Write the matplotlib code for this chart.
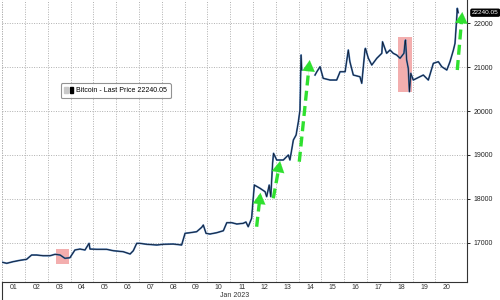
import numpy as np
import matplotlib
matplotlib.use("Agg")
import matplotlib.pyplot as plt
from matplotlib.patches import Rectangle, Patch
from matplotlib.legend_handler import HandlerTuple

plt.rcParams['font.family'] = ['Liberation Sans', 'DejaVu Sans']

# time in days since Jan 1 00:00 (2023), price in USD
days = [0.01, 0.20, 0.47, 0.78, 1.07, 1.29, 1.51, 1.79, 2.10, 2.32, 2.54, 2.75, 2.97,
        3.19, 3.41, 3.63, 3.81, 3.85, 4.14, 4.58, 4.87, 5.31, 5.61, 5.75, 5.90, 6.04,
        6.34, 6.78, 7.07, 7.50, 7.87, 8.02, 8.24, 8.53, 8.75, 8.82, 8.94, 9.11, 9.41,
        9.70, 9.85, 10.07, 10.29, 10.57, 10.69, 10.79, 10.94, 11.04, 11.06, 11.31,
        11.53, 11.60, 11.71, 11.78, 11.86, 11.90, 12.04, 12.33, 12.55, 12.62, 12.77,
        12.89, 12.99, 13.06, 13.09, 13.11, 13.14, 13.40,
        13.72, 13.80, 13.94, 14.08, 14.38, 14.67, 14.82, 15.04, 15.18, 15.25, 15.40,
        15.69, 15.77, 15.91, 15.93, 16.06, 16.21, 16.43, 16.65, 16.68, 16.86, 17.01,
        17.15, 17.30, 17.45, 17.62, 17.67, 17.69, 17.74, 17.81, 17.86, 17.92, 18.03,
        18.18, 18.47, 18.69, 18.91, 19.13, 19.28, 19.50, 19.64, 19.79, 19.86, 19.93,
        19.96, 20.00]
price = [16554, 16531, 16567, 16599, 16622, 16720, 16720, 16704, 16704, 16736, 16720,
         16645, 16658, 16834, 16856, 16834, 16986, 16856, 16850, 16850, 16818, 16795,
         16743, 16818, 16986, 16986, 16964, 16948, 16964, 16970, 16948, 17214, 17228,
         17251, 17351, 17403, 17214, 17198, 17228, 17273, 17456, 17456, 17426, 17442,
         17472, 17364, 17556, 18200, 18314, 18239, 18162, 18048, 18314, 18048, 18809,
         19037, 18884, 18884, 18998, 18884, 19339, 19453, 19756, 20023, 20781, 21276,
         20934, np.nan,
         20820, 20895, 21009, 20745, 20706, 20706, 20895, 20895, 21390, 21123, 20820,
         20781, 20631, 21390, 21428, 21201, 21048, 21201, 21315, 21579, 21315, 21390,
         21315, 21276, 21201, 21315, 21579, 21618, 21162, 20973, 20440, 20859, 20706,
         20745, 20820, 20706, 21087, 21123, 21009, 20934, 21123, 21390, 21542, 22073,
         22340, 22240]

last_price = 22240.05
day_labels = ["%02d" % d for d in range(1, 21)]
y_ticks = [17000, 18000, 19000, 20000, 21000, 22000]

# annotation arrows: (tail_day, tail_price, tip_day, tip_price)
arrows = [(11.16, 17364, 11.34, 18200),
          (11.89, 18011, 12.21, 18923),
          (13.03, 18845, 13.50, 21223),
          (19.96, 20934, 20.19, 22317)]
# highlight boxes: (day0, day1, price0, price1)
boxes = [(2.36, 2.93, 16508, 16856),
         (17.37, 17.96, 20440, 21693)]

fig = plt.figure(figsize=(5, 3), dpi=100)
ax = fig.add_axes([0.0044, 0.061, 0.9296, 0.939])
ax.set_xlim(0, 20.386)
ax.set_ylim(16112, 22529)

for b in boxes:
    ax.add_patch(Rectangle((b[0], b[2]), b[1] - b[0], b[3] - b[2],
                           facecolor='#f2a0a0', edgecolor='none', alpha=0.85, zorder=2))

ax.plot(days, price, color='#4a7ab5', lw=1.3, zorder=3, solid_joinstyle='round')
ax.plot(days, price, color='#111c30', lw=0.6, zorder=4, solid_joinstyle='round')

green = '#2fe02f'
for t in arrows:
    ax.plot([t[0], t[0] + (t[2] - t[0]) * 0.85], [t[1], t[1] + (t[3] - t[1]) * 0.85],
            color=green, lw=2.4, dashes=(3, 1.6), zorder=5, solid_capstyle='butt')
    ax.annotate('', xy=(t[2], t[3]),
                xytext=(t[0] + (t[2] - t[0]) * 0.8, t[1] + (t[3] - t[1]) * 0.8),
                arrowprops=dict(arrowstyle='-|>,head_width=0.45,head_length=0.8',
                                color=green, lw=0.1), zorder=5)

# grids
ax.set_xticks(np.arange(0, 20) + 0.5)
ax.set_xticklabels(day_labels)
ax.set_xticks(np.arange(0, 20), minor=True)
ax.tick_params(axis='x', which='major', length=0, labelsize=5, pad=2, colors='#333333')
ax.tick_params(axis='x', which='minor', length=0)
ax.grid(axis='x', which='minor', color='#b0b0b0', lw=0.7, ls=(0, (1, 1.5)))
ax.yaxis.tick_right()
ax.set_yticks(y_ticks)
ax.set_yticklabels([str(v) for v in y_ticks])
ax.tick_params(axis='y', length=2.5, width=0.7, labelsize=5, pad=2, colors='#222222')
ax.grid(axis='y', color='#b0b0b0', lw=0.7, ls=(0, (1, 1.5)))
ax.axvline(0, color='#b0b0b0', lw=0.7, ls=(0, (1, 1.5)))

ax.spines['top'].set_visible(False)
ax.spines['left'].set_visible(False)
ax.spines['right'].set_color('#333333')
ax.spines['bottom'].set_color('#333333')
ax.spines['right'].set_linewidth(0.8)
ax.spines['bottom'].set_linewidth(0.8)

# month boundary tick and label
ax.plot([0, 0], [0, -0.065], transform=ax.transAxes, color='#333333', lw=0.8, clip_on=False)
ax.text(0.5, -0.05, 'Jan 2023', transform=ax.transAxes, ha='center', va='center',
        fontsize=5, color='#333333')

# last price tag
ax.annotate('%.2f' % last_price, xy=(1.0, last_price), xycoords=('axes fraction', 'data'),
            xytext=(3.5, 0), textcoords='offset points', ha='left', va='center',
            fontsize=4.6, color='white',
            bbox=dict(boxstyle='round,pad=0.15,rounding_size=0.2', fc='black', ec='black'))

# legend
h = (Patch(facecolor='#c8c8c8', edgecolor='#c8c8c8'), Patch(facecolor='black', edgecolor='black'))
leg = ax.legend([h], ['Bitcoin - Last Price %.2f' % last_price], loc='upper left',
                bbox_to_anchor=(0.118, 0.716), fontsize=5,
                handler_map={tuple: HandlerTuple(ndivide=None, pad=0.2)},
                handlelength=1.3, handleheight=0.8, handletextpad=0.4,
                borderpad=0.55, frameon=True, fancybox=True)
leg.get_frame().set_edgecolor('#777777')
leg.get_frame().set_linewidth(0.8)

fig.savefig('out.png', dpi=100)
